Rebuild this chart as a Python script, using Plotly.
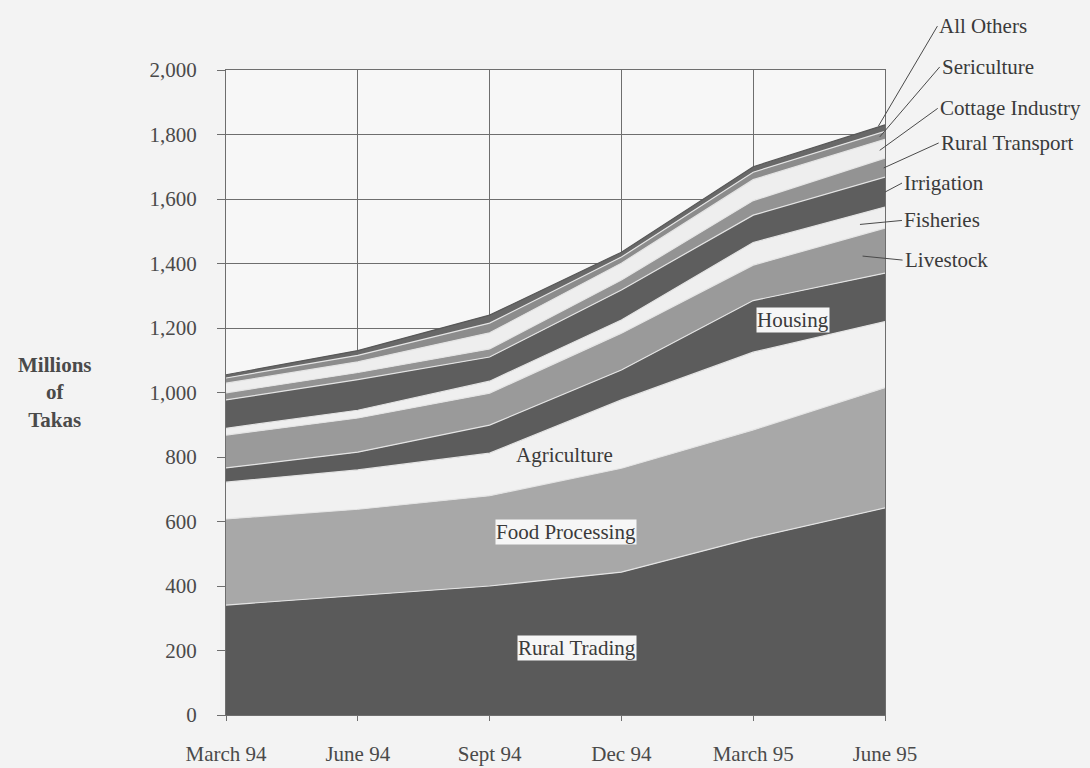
import plotly.graph_objects as go

# Quarter-end reporting dates
periods = ["March 94", "June 94", "Sept 94", "Dec 94", "March 95", "June 95"]

# Outstanding loans by sector, millions of Takas (stacked bottom to top)
rural_trading = [341, 370, 400, 443, 549, 642]
food_processing = [267, 268, 280, 322, 335, 373]
agriculture = [114, 122, 132, 212, 241, 205]
housing = [44, 55, 87, 93, 160, 150]
livestock = [102, 106, 99, 114, 110, 140]
fisheries = [21, 24, 37, 41, 70, 65]
irrigation = [88, 95, 75, 93, 85, 93]
rural_transport = [22, 22, 25, 31, 45, 59]
cottage_industry = [30, 33, 50, 52, 65, 58]
sericulture = [16, 20, 30, 19, 23, 25]
all_others = [10, 15, 25, 15, 17, 20]

y_ticks = [0, 200, 400, 600, 800, 1000, 1200, 1400, 1600, 1800, 2000]

series = [
    ("Rural Trading", rural_trading, "#5a5a5a"),
    ("Food Processing", food_processing, "#a8a8a8"),
    ("Agriculture", agriculture, "#f1f1f1"),
    ("Housing", housing, "#5c5c5c"),
    ("Livestock", livestock, "#9a9a9a"),
    ("Fisheries", fisheries, "#efefef"),
    ("Irrigation", irrigation, "#5e5e5e"),
    ("Rural Transport", rural_transport, "#939393"),
    ("Cottage Industry", cottage_industry, "#eeeeee"),
    ("Sericulture", sericulture, "#8c8c8c"),
    ("All Others", all_others, "#686868"),
]

xs = list(range(len(periods)))
SERIF = "Liberation Serif, Times New Roman, serif"
FS = 21

fig = go.Figure()
for name, vals, col in series:
    edge = "#585858" if name == "All Others" else "#e4e4e4"
    fig.add_trace(go.Scatter(
        x=xs, y=vals, name=name, mode="lines", stackgroup="loans",
        fillcolor=col, line=dict(color=edge, width=1.2),
        hoverinfo="x+y+name",
    ))

# cumulative tops, used to anchor the leader lines
cum = {}
run = [0] * len(xs)
for name, vals, _ in series:
    run = [a + b for a, b in zip(run, vals)]
    cum[name] = run[:]
last = len(xs) - 1
names = [s[0] for s in series]


def band_mid(name, xpos):
    """Middle of a band at a fractional x position (linear between dates)."""
    i = names.index(name)
    i0 = min(int(xpos), last - 1)
    t = xpos - i0

    def at(arr):
        return arr[i0] + t * (arr[i0 + 1] - arr[i0])

    top = at(cum[name])
    below = at(cum[names[i - 1]]) if i > 0 else 0
    return (below + top) / 2


annots = []

# labels inside the main bands
inside = [
    ("Rural Trading", 2.66, 208, True),
    ("Food Processing", 2.58, 567, True),
    ("Agriculture", 2.57, 806, False),
    ("Housing", 4.30, 1225, True),
]
for text, x, y, boxed in inside:
    annots.append(dict(
        x=x, y=y, xref="x", yref="y", text=text, showarrow=False,
        font=dict(family=SERIF, size=FS, color="#3a3a3a"),
        bgcolor="#f6f6f6" if boxed else None, borderpad=0,
    ))

# leader-line labels for the thin bands at the right edge
leaders = [
    ("All Others", 4.95, cum["All Others"][last] - 4, 59, -100),
    ("Sericulture", 4.96, band_mid("Sericulture", 4.96), 60, -70),
    ("Cottage Industry", 4.96, band_mid("Cottage Industry", 4.96), 58, -42),
    ("Rural Transport", 4.99, band_mid("Rural Transport", 4.99), 55, -25),
    ("Irrigation", 5.0, band_mid("Irrigation", 5.0), 17, -9),
    ("Fisheries", 4.81, band_mid("Fisheries", 4.81), 42, -4),
    ("Livestock", 4.83, band_mid("Livestock", 4.83), 40, 4),
]
for text, x, y, ax, ay in leaders:
    annots.append(dict(
        x=x, y=y, xref="x", yref="y", text=text, showarrow=True,
        arrowhead=0, arrowwidth=1, arrowcolor="#4a4a4a",
        ax=ax, ay=ay, axref="pixel", ayref="pixel", xanchor="left",
        font=dict(family=SERIF, size=FS, color="#3a3a3a"),
    ))

annots.append(dict(
    x=-0.259, y=0.50, xref="paper", yref="paper",
    xanchor="center", yanchor="middle",
    text="<b>Millions<br>of<br>Takas</b>", showarrow=False,
    font=dict(family=SERIF, size=21, color="#4a4a4a"), align="center",
))

fig.update_layout(
    width=1090, height=768,
    margin=dict(l=226, r=205, t=70, b=53, autoexpand=False),
    paper_bgcolor="#f3f3f3", plot_bgcolor="#f7f7f7",
    showlegend=False,
    annotations=annots,
    xaxis=dict(
        range=[0, last], tickmode="array", tickvals=xs, ticktext=periods,
        showgrid=True, gridcolor="#6e6e6e", gridwidth=1,
        showline=True, linecolor="#6e6e6e", linewidth=1, mirror=True,
        ticks="outside", ticklen=5, tickcolor="#6e6e6e",
        ticklabelstandoff=15, automargin=False,
        tickfont=dict(family=SERIF, size=FS, color="#4a4a4a"),
        zeroline=False,
    ),
    yaxis=dict(
        range=[0, 2000], tickmode="array", tickvals=y_ticks,
        tickformat=",d",
        showgrid=True, gridcolor="#6e6e6e", gridwidth=1,
        showline=True, linecolor="#6e6e6e", linewidth=1, mirror=True,
        ticks="outside", ticklen=8, tickcolor="#6e6e6e",
        ticklabelstandoff=16, automargin=False,
        tickfont=dict(family=SERIF, size=FS, color="#4a4a4a"),
        zeroline=False,
    ),
)

fig.write_html("out.html")
